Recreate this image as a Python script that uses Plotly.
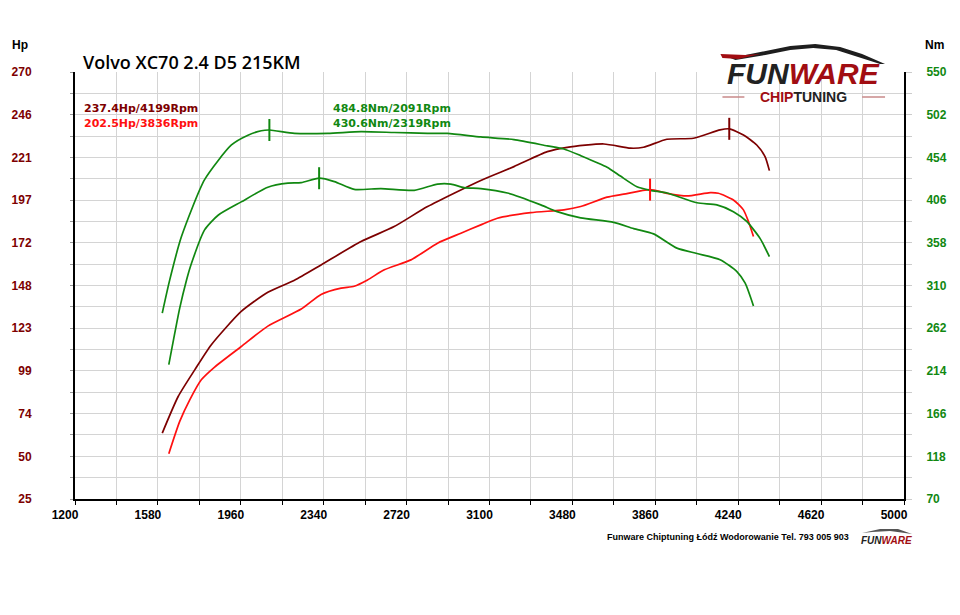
import plotly.graph_objects as go

# tuned power (Hp)
rpm_hp_tuned = [1600, 1673, 1749, 1825, 1962, 2084, 2206, 2328, 2511, 2663, 2816, 3060,
                3212, 3365, 3456, 3624, 3746, 3806, 3913, 4035, 4157, 4199, 4264, 4325, 4363, 4383]
hp_tuned = [62.8, 83.8, 99.1, 113.5, 132.6, 143.6, 150.5, 159.3, 172.7, 181.3, 192.8, 207.8,
            215.7, 224.3, 226.8, 228.7, 226.3, 226.8, 231.4, 232.0, 236.8, 237.4, 233.9, 228.1, 221.4, 213.4]

# stock power (Hp)
rpm_hp_stock = [1630, 1680, 1726, 1779, 1840, 1962, 2084, 2237, 2328, 2420, 2480, 2541, 2618, 2740,
                2862, 2969, 3060, 3136, 3289, 3441, 3518, 3639, 3715, 3836, 3914, 4005, 4112, 4149,
                4218, 4264, 4287, 4310]
hp_stock = [51.0, 69.5, 81.9, 93.4, 100.7, 112.5, 124.2, 134.0, 142.4, 146.0, 147.1, 150.7, 156.5, 162.2,
            171.8, 177.5, 182.3, 186.1, 189.3, 190.9, 192.8, 198.2, 199.9, 202.5, 200.4, 198.9, 200.8, 200.4,
            196.6, 190.9, 184.2, 175.6]

# tuned torque (Nm)
rpm_nm_tuned = [1600, 1634, 1688, 1794, 1917, 1993, 2054, 2091, 2206, 2359, 2511, 2663, 2816, 2907,
                3060, 3212, 3365, 3441, 3518, 3639, 3700, 3776, 3838, 3914, 4051, 4142, 4218, 4279, 4340, 4383]
nm_tuned = [279, 316, 365, 429, 468, 479, 484, 484.8, 481, 481, 483, 482, 481, 481,
            477, 474, 467, 463.5, 456, 443, 433, 421, 417, 414, 403, 400.6, 393, 382, 363, 342.5]

# stock torque (Nm)
rpm_nm_stock = [1630, 1680, 1711, 1734, 1794, 1856, 1962, 2084, 2176, 2237, 2319, 2389, 2480, 2602,
                2755, 2862, 2923, 2983, 3060, 3182, 3335, 3410, 3518, 3669, 3761, 3852, 3959, 4051,
                4157, 4234, 4272, 4310]
nm_stock = [221, 284.5, 316, 335, 372.5, 389, 404, 420.5, 425, 425.6, 430.6, 426.8, 418, 419,
            417, 424, 424, 420, 419, 414, 400.6, 393, 386, 381, 374, 368, 352, 346,
            339, 325.7, 312.6, 287]

# peaks shown in the header texts
peak_hp_tuned = (237.4, 4199)
peak_hp_stock = (202.5, 3836)
peak_nm_tuned = (484.8, 2091)
peak_nm_stock = (430.6, 2319)

hp_ticks = [25, 50, 74, 99, 123, 148, 172, 197, 221, 246, 270]
nm_ticks = [70, 118, 166, 214, 262, 310, 358, 406, 454, 502, 550]

DARK = "#7d0000"
RED = "#ff1010"
GREEN = "#118811"
LOGO_RED = "#a10d12"

HP_RANGE = [25, 270]
NM_RANGE = [70, 550]

# plot box in pixels
PL, PR, PT, PB = 73, 904, 72, 499


def px(x):
    return (x - PL) / (PR - PL)


def py(y):
    return (PB - y) / (PB - PT)


fig = go.Figure()

def curve(x, y, color, axis="y"):
    fig.add_trace(go.Scatter(x=x, y=y, mode="lines", yaxis=axis,
                             line=dict(color=color, width=1.7, shape="spline", smoothing=0.6),
                             hoverinfo="x+y", showlegend=False))

curve(rpm_nm_tuned, nm_tuned, GREEN, "y2")
curve(rpm_nm_stock, nm_stock, GREEN, "y2")
curve(rpm_hp_tuned, hp_tuned, DARK)
curve(rpm_hp_stock, hp_stock, RED)

# vertical peak markers, 11 px each way
def marker(peak, color, yref, rng):
    d = 11 / (PB - PT) * (rng[1] - rng[0])
    fig.add_shape(type="line", xref="x", yref=yref, x0=peak[1], x1=peak[1],
                  y0=peak[0] - d, y1=peak[0] + d, line=dict(color=color, width=2))

marker(peak_hp_tuned, DARK, "y", HP_RANGE)
marker(peak_hp_stock, RED, "y", HP_RANGE)
marker(peak_nm_tuned, GREEN, "y2", NM_RANGE)
marker(peak_nm_stock, GREEN, "y2", NM_RANGE)

tf = dict(family="Liberation Sans", size=12, weight="bold")

fig.update_layout(
    width=960, height=615,
    margin=dict(l=PL, r=960 - PR, t=PT, b=615 - PB),
    paper_bgcolor="white", plot_bgcolor="white",
    showlegend=False,
    xaxis=dict(range=[1200, 5000], tick0=1200, dtick=380, showgrid=True,
               gridcolor="#d4d4d4", gridwidth=1, showline=True, linecolor="black", linewidth=2,
               ticks="outside", ticklen=4, tickcolor="black", tickwidth=1,
               ticklabelshift=-10, ticklabelstandoff=0,
               tickfont=dict(tf, color="black"),
               minor=dict(dtick=190, tick0=1200, showgrid=True, gridcolor="#d4d4d4",
                          ticks="outside", ticklen=4, tickcolor="black"),
               zeroline=False, fixedrange=True),
    yaxis=dict(range=HP_RANGE, tickvals=[25 + 24.5 * i for i in range(11)],
               ticktext=[str(v) for v in hp_ticks], showgrid=True,
               gridcolor="#d4d4d4", gridwidth=1, showline=True, linecolor="black", linewidth=2,
               ticks="outside", ticklen=3, tickcolor="#999999",
               ticklabelstandoff=36, tickfont=dict(tf, color=DARK),
               minor=dict(dtick=12.25, tick0=25, showgrid=True, gridcolor="#d4d4d4",
                          ticks="outside", ticklen=3, tickcolor="#999999"),
               zeroline=False, fixedrange=True),
    yaxis2=dict(range=NM_RANGE, overlaying="y", side="right",
                tickvals=nm_ticks, showgrid=False,
                showline=True, linecolor="black", linewidth=2,
                ticks="outside", ticklen=6, tickcolor="#cccccc",
                ticklabelstandoff=12, tickfont=dict(tf, color=GREEN),
                minor=dict(dtick=24, tick0=70, ticks="outside", ticklen=6, tickcolor="#cccccc"),
                zeroline=False, fixedrange=True),
)

ann = []

def text(x, y, s, size=12, color="black", xanchor="left", family="DejaVu Sans", weight="normal"):
    ann.append(dict(xref="paper", yref="paper", x=px(x), y=py(y), text=s, showarrow=False,
                    xanchor=xanchor, yanchor="middle",
                    font=dict(family=family, size=size, color=color, weight=weight)))

text(79, 62, "Volvo XC70 2.4 D5 215KM", size=18, family="Open Sans", weight=600)
text(18, 45, "Hp", size=12, xanchor="center", family="Liberation Sans", weight="bold")
text(935, 45, "Nm", size=12, xanchor="center", family="Liberation Sans", weight="bold")

text(80, 108, "%.1fHp/%dRpm" % peak_hp_tuned, size=11, color=DARK, weight="bold")
text(80, 123, "%.1fHp/%dRpm" % peak_hp_stock, size=11, color=RED, weight="bold")
text(330, 108, "%.1fNm/%dRpm" % peak_nm_tuned, size=11, color=GREEN, weight="bold")
text(330, 123, "%.1fNm/%dRpm" % peak_nm_stock, size=11, color=GREEN, weight="bold")

# logo top right
text(803, 73, "<i>FUN<span style='color:%s'>WARE</span></i>" % LOGO_RED, size=30,
     xanchor="center", family="Liberation Sans", weight="bold", color="#222222")
text(803, 97, "<span style='color:%s'>CHIP</span>TUNING" % LOGO_RED, size=14,
     xanchor="center", family="Liberation Sans", weight="bold", color="#222222")

# footer
text(851, 537, "Funware Chiptuning Łódź Wodorowanie Tel. 793 005 903", size=9,
     xanchor="right", family="Liberation Sans", weight="bold")
text(886, 540, "<i>FUN<span style='color:%s'>WARE</span></i>" % LOGO_RED, size=10,
     xanchor="center", family="Liberation Sans", weight="bold", color="#222222")

fig.update_layout(annotations=ann)

# decorative car outline in the logo
def path(points):
    s = "M %f,%f" % (px(points[0][0]), py(points[0][1]))
    for p in points[1:]:
        s += " L %f,%f" % (px(p[0]), py(p[1]))
    return s + " Z"

roof = [(730, 58), (760, 52), (790, 46), (815, 44), (840, 47), (862, 54), (885, 64),
        (880, 64), (858, 57), (836, 50), (813, 48), (790, 50), (765, 55), (735, 60)]
fig.add_shape(type="path", xref="paper", yref="paper", path=path(roof),
              fillcolor="#1e1e1e", line=dict(width=0))
swoosh = [(720, 54), (745, 55), (760, 54), (738, 59), (722, 58)]
fig.add_shape(type="path", xref="paper", yref="paper", path=path(swoosh),
              fillcolor=LOGO_RED, line=dict(width=0))
for a, b in [(722, 744), (862, 885)]:
    fig.add_shape(type="line", xref="paper", yref="paper", x0=px(a), x1=px(b),
                  y0=py(97), y1=py(97), line=dict(color="#c88a8a", width=1.5))
footer_car = [(862, 533), (880, 529), (898, 529), (912, 534), (905, 533), (890, 531), (872, 532)]
fig.add_shape(type="path", xref="paper", yref="paper", path=path(footer_car),
              fillcolor="#555555", line=dict(width=0))

fig.write_html("out.html", config={"displayModeBar": False},
               post_script="document.body.style.margin='0';")
